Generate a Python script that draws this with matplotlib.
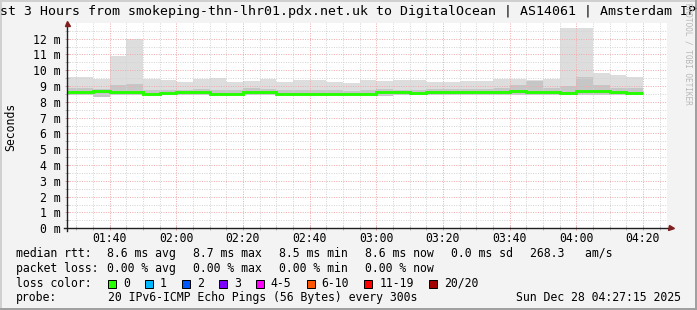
import matplotlib
matplotlib.use("Agg")
import matplotlib.pyplot as plt
from matplotlib.ticker import MultipleLocator, FuncFormatter
from matplotlib.patches import Rectangle

# 5 minute steps, value stamped at the end of each step
times = ["01:30", "01:35", "01:40", "01:45", "01:50", "01:55", "02:00", "02:05",
         "02:10", "02:15", "02:20", "02:25", "02:30", "02:35", "02:40", "02:45",
         "02:50", "02:55", "03:00", "03:05", "03:10", "03:15", "03:20", "03:25",
         "03:30", "03:35", "03:40", "03:45", "03:50", "03:55", "04:00", "04:05",
         "04:10", "04:15", "04:20"]
max_ms = [9.57, 9.57, 9.45, 10.88, 12.00, 9.47, 9.40, 9.28, 9.45, 9.53, 9.28, 9.31,
          9.47, 9.28, 9.40, 9.36, 9.23, 9.19, 9.36, 9.34, 9.40, 9.40, 9.28, 9.28,
          9.32, 9.34, 9.42, 9.42, 9.36, 9.47, 12.68, 12.68, 9.85, 9.68, 9.59]
hi_ms = [8.85, 8.85, 8.80, 9.07, 9.15, 8.75, 8.75, 8.78, 8.80, 8.75, 8.72, 8.85,
         8.80, 8.72, 8.72, 8.72, 8.72, 8.70, 8.72, 8.80, 8.78, 8.75, 8.82, 8.80,
         8.80, 8.80, 8.85, 9.04, 9.30, 8.85, 9.00, 9.59, 9.09, 8.85, 8.85]
min_ms = [8.45, 8.45, 8.33, 8.45, 8.45, 8.44, 8.45, 8.45, 8.45, 8.44, 8.44, 8.45,
          8.43, 8.44, 8.44, 8.44, 8.44, 8.44, 8.44, 8.38, 8.43, 8.44, 8.45, 8.45,
          8.45, 8.45, 8.44, 8.44, 8.44, 8.44, 8.43, 8.41, 8.42, 8.44, 8.44]
median_ms = [8.60, 8.60, 8.66, 8.60, 8.60, 8.50, 8.57, 8.62, 8.60, 8.50, 8.50, 8.62,
             8.62, 8.52, 8.52, 8.52, 8.52, 8.52, 8.52, 8.60, 8.60, 8.57, 8.62, 8.65,
             8.65, 8.65, 8.62, 8.70, 8.62, 8.62, 8.55, 8.67, 8.67, 8.62, 8.57]

start_time = "01:27:15"
end_time = "04:27:15"

loss_labels = ["0", "1", "2", "3", "4-5", "6-10", "11-19", "20/20"]
loss_colors = ["#26ff00", "#00b8ff", "#0059ff", "#7e00ff", "#ff00ff", "#ff5500",
               "#ff0000", "#a10000"]

title = "Last 3 Hours from smokeping-thn-lhr01.pdx.net.uk to DigitalOcean | AS14061 | Amsterdam IPv6"
rtt_items = ["8.6 ms avg", "8.7 ms max", "8.5 ms min", "8.6 ms now", "0.0 ms sd", "268.3   am/s"]
loss_items = ["0.00 % avg", "0.00 % max", "0.00 % min", "0.00 % now"]
probe_text = "20 IPv6-ICMP Echo Pings (56 Bytes) every 300s"
stamp = "Sun Dec 28 04:27:15 2025"


def to_min(s):
    p = [int(v) for v in s.split(":")]
    return p[0] * 60 + p[1] + (p[2] / 60 if len(p) > 2 else 0)


ends = [to_min(t) for t in times]
edges = [ends[0] - 5] + ends

W, H = 697, 310
MONO = "DejaVu Sans Mono"
FS = 8.3
BACK = "#F3F3F3"
GRID = "#D4D4D4"
MGRID = "#F0ACAC"
ARROW = (0.5, 0.12, 0.12)
AXIS = "#1F1F1F"


def fx(x):
    return x / W


def fy(y):
    return 1 - y / H


fig = plt.figure(figsize=(W / 100, H / 100), dpi=100)
fig.patch.set_facecolor(BACK)

x0, x1, ytop, ybot = 67, 667, 23.3, 228.3
ax = fig.add_axes([fx(x0), fy(ybot), (x1 - x0) / W, (ybot - ytop) / H])
ax.set_facecolor("white")
for s in ax.spines.values():
    s.set_visible(False)

ax.stairs(max_ms, edges, baseline=min_ms, fill=True, color="#DDDDDD", lw=0, zorder=1)
ax.stairs(hi_ms, edges, baseline=min_ms, fill=True, color="#C6C6C6", lw=0, zorder=1.1)
ax.stairs(median_ms, edges, baseline=None, color="#26ff00", lw=2.1, zorder=3)

ax.set_xlim(to_min(start_time), to_min(end_time))
ax.set_ylim(0, 12.97)

ax.xaxis.set_major_locator(MultipleLocator(20))
ax.xaxis.set_minor_locator(MultipleLocator(5))
ax.yaxis.set_major_locator(MultipleLocator(1))
ax.yaxis.set_minor_locator(MultipleLocator(0.5))
ax.xaxis.set_major_formatter(FuncFormatter(lambda v, p: "%02d:%02d" % (int(v) // 60, int(v) % 60)))
ax.yaxis.set_major_formatter(FuncFormatter(lambda v, p: "%d m" % round(v)))

ax.set_axisbelow(False)
ax.grid(which="major", color=MGRID, lw=0.72, ls=(0, (1, 1.4)), zorder=2)
ax.grid(which="minor", color=GRID, lw=0.72, ls=(0, (1, 1.4)), zorder=2)

ax.tick_params(which="major", direction="inout", length=2.9, width=0.72, color="#C8A0A0",
               labelsize=FS, pad=1.5)
ax.tick_params(which="minor", direction="inout", length=2.9, width=0.72, color="#BBBBBB")
ax.tick_params(axis="y", which="major", pad=2.9)
for lab in ax.get_xticklabels() + ax.get_yticklabels():
    lab.set_fontfamily(MONO)

# axes lines with arrows
ax.plot([0, 0], [-3 / 205, 1.0], transform=ax.transAxes, color=AXIS, lw=1.0, clip_on=False, zorder=4)
ax.plot([-3 / 600, 1.0 + 2 / 600], [0, 0], transform=ax.transAxes, color=AXIS, lw=1.0, clip_on=False, zorder=4)
ax.plot([0], [1.0 + 0.5 / 205], marker="^", ms=3.6, color=ARROW, transform=ax.transAxes, clip_on=False, zorder=5)
ax.plot([1.0 + 4 / 600], [0], marker=">", ms=3.6, color=ARROW, transform=ax.transAxes, clip_on=False, zorder=5)

fig.text(0.5, fy(12), title, ha="center", va="center", fontsize=9.5, family=MONO)
fig.text(fx(11), fy(127), "Seconds", rotation=90, ha="center", va="center", fontsize=FS, family=MONO)
fig.text(fx(688), fy(3), "RRDTOOL / TOBI OETIKER", rotation=270, ha="center", va="top",
         fontsize=5.6, family=MONO, color="#B8B8B8")

# legend block
rows = [253.5, 268.5, 283.5, 297.5]
fig.text(fx(16), fy(rows[0]), "median rtt:", va="center", fontsize=FS, family=MONO)
for x, t in zip([107, 193, 279, 365, 451, 530], rtt_items):
    fig.text(fx(x), fy(rows[0]), t, va="center", fontsize=FS, family=MONO)
fig.text(fx(16), fy(rows[1]), "packet loss:", va="center", fontsize=FS, family=MONO)
for x, t in zip([107, 193, 279, 365], loss_items):
    fig.text(fx(x), fy(rows[1]), t, va="center", fontsize=FS, family=MONO)
fig.text(fx(16), fy(rows[2]), "loss color:", va="center", fontsize=FS, family=MONO)
cw = 6.94
x = 108
for lab, col in zip(loss_labels, loss_colors):
    fig.add_artist(Rectangle((fx(x), fy(rows[2] + 4.5)), 8 / W, 8 / H, transform=fig.transFigure,
                             facecolor=col, edgecolor="black", lw=0.72))
    fig.text(fx(x + 15), fy(rows[2]), lab, va="center", fontsize=FS, family=MONO)
    x = x + 15 + len(lab) * cw + 15
fig.text(fx(16), fy(rows[3]), "probe:", va="center", fontsize=FS, family=MONO)
fig.text(fx(108), fy(rows[3]), probe_text, va="center", fontsize=FS, family=MONO)
fig.text(fx(681), fy(rows[3]), stamp, ha="right", va="center", fontsize=FS, family=MONO)

# 3d frame
fig.add_artist(Rectangle((0, 1 - 2 / H), 1, 2 / H, transform=fig.transFigure, color="#D0D0D0", lw=0))
fig.add_artist(Rectangle((0, 0), 2 / W, 1, transform=fig.transFigure, color="#D0D0D0", lw=0))
fig.add_artist(Rectangle((0, 0), 1, 2 / H, transform=fig.transFigure, color="#A0A0A0", lw=0))
fig.add_artist(Rectangle((1 - 2 / W, 0), 2 / W, 1, transform=fig.transFigure, color="#A0A0A0", lw=0))

fig.savefig("out.png", dpi=100, facecolor=BACK)
